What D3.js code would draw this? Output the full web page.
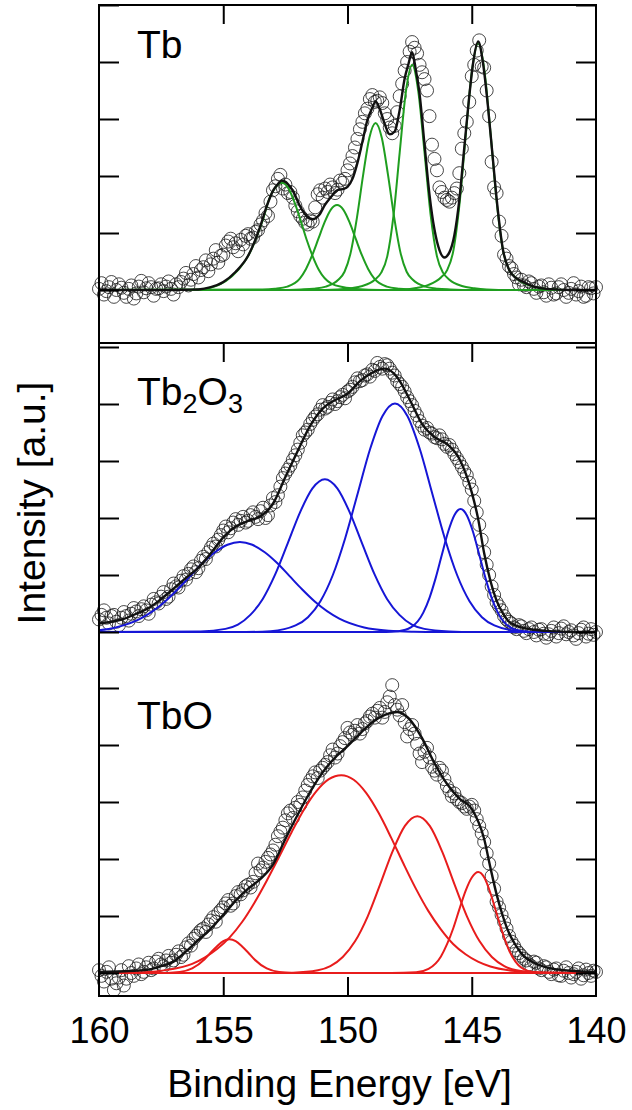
<!DOCTYPE html>
<html>
<head>
<meta charset="utf-8">
<script src="https://cdn.jsdelivr.net/npm/d3@7"></script>
<style>
  body { margin: 0; background: #fff; }
  text { font-family: "Liberation Sans", Arial, sans-serif; fill: #000; }
</style>
</head>
<body>
<svg id="chart" width="632" height="1110"></svg>
<script>
// scan energies (eV), 0.1 eV step from 160 down to 140
const scanEnergy = d3.range(0, 201).map(i => +(160 - 0.1 * i).toFixed(1));
const xTicks = [160, 155, 150, 145, 140];
const yTicks = [0, 1, 2, 3, 4, 5];

// ---- Tb (metal) ----
const tbCounts = [
  0.02, 0.12, -0.08, -0.02, 0.05, 0.14, -0.12, 0.00, 0.10, 0.04,
  -0.05, -0.12, 0.02, 0.08, -0.15, -0.06, 0.06, 0.16, -0.04, 0.03,
  0.12, 0.05, -0.10, 0.02, 0.03, 0.10, -0.02, 0.06, 0.15, 0.02,
  -0.08, 0.10, 0.05, 0.14, 0.20, 0.30, 0.08, 0.18, 0.28, 0.42,
  0.22, 0.35, 0.40, 0.52, 0.33, 0.45, 0.55, 0.70, 0.48, 0.60,
  0.62, 0.78, 0.85, 0.90, 0.75, 0.82, 0.68, 0.88, 0.80, 0.95,
  0.98, 0.90, 0.92, 1.02, 1.05, 1.15, 1.22, 1.35, 1.30, 1.55,
  1.75, 1.82, 1.95, 2.02, 1.78, 1.85, 1.70, 1.72, 1.62, 1.48,
  1.38, 1.30, 1.25, 1.18, 1.15, 1.22, 1.20, 1.45, 1.68, 1.75,
  1.62, 1.78, 1.72, 1.85, 1.80, 1.70, 1.76, 1.92, 1.88, 1.95,
  2.10, 2.22, 2.35, 2.50, 2.65, 2.82, 2.95, 3.10, 3.18, 3.35,
  3.42, 3.30, 3.32, 3.38, 3.28, 3.10, 3.00, 2.85, 2.75, 2.88,
  3.12, 3.40, 3.62, 3.85, 4.00, 4.18, 4.35, 4.25, 4.15, 3.95,
  3.82, 3.70, 3.50, 3.05, 2.55, 2.30, 2.10, 1.80, 1.72, 1.62,
  1.58, 1.55, 1.62, 1.70, 1.78, 2.05, 2.48, 2.75, 2.95, 3.30,
  3.75, 3.95, 4.20, 4.38, 3.92, 3.90, 3.50, 3.05, 2.25, 1.80,
  1.70, 1.20, 0.95, 0.62, 0.55, 0.42, 0.38, 0.28, 0.22, 0.10,
  0.18, 0.08, 0.05, 0.15, 0.12, 0.02, -0.05, 0.06, 0.08, -0.04,
  -0.10, 0.10, 0.04, -0.08, -0.06, 0.05, 0.10, 0.00, -0.12, -0.05,
  0.02, 0.12, -0.08, -0.02, 0.06, -0.12, -0.10, 0.05, 0.03, -0.06,
  0.05
];
const tbFit = [[160,0],[158,0],[157,0],[156.5,0.005],[156,0.01],[155.5,0.05],[155,0.14],[154.5,0.32],[154,0.60],
  [153.5,1.13],[153.25,1.47],[153,1.74],[152.8,1.86],[152.65,1.92],[152.4,1.86],[152.15,1.70],[151.9,1.46],
  [151.65,1.30],[151.4,1.24],[151.15,1.31],[150.9,1.50],[150.65,1.64],[150.42,1.75],[150.2,1.77],[150,1.81],
  [149.8,1.95],[149.6,2.23],[149.4,2.60],[149.2,2.98],[149,3.20],[148.87,3.31],[148.7,3.17],[148.5,2.91],
  [148.3,2.73],[148.1,2.78],[147.9,3.16],[147.7,3.71],[147.55,3.96],[147.4,4.17],[147.25,3.86],[147.1,3.44],
  [146.9,2.55],[146.7,1.67],[146.5,1.06],[146.3,0.70],[146.1,0.57],[145.9,0.66],[145.7,0.96],[145.5,1.58],
  [145.3,2.50],[145.1,3.40],[144.95,3.97],[144.74,4.36],[144.55,3.99],[144.35,3.23],[144.15,2.30],[143.95,1.40],
  [143.75,0.72],[143.5,0.36],[143.25,0.22],[143,0.155],[142.5,0.06],[142,0.02],[141,0],[140,0]];
const tbPeak1 = [[160,0],[156.15,0.005],[155.65,0.028],[155.15,0.094],[154.65,0.24],[154.15,0.49],[153.9,0.68],
  [153.65,0.94],[153.4,1.24],[153.15,1.60],[152.9,1.80],[152.65,1.88],[152.4,1.80],[152.15,1.56],[151.9,1.24],
  [151.65,0.89],[151.4,0.59],[151.15,0.35],[150.65,0.11],[150.15,0.047],[149.65,0.019],[148.65,0],[140,0]];
const tbPeak2 = [[160,0],[153.42,0.009],[152.92,0.022],[152.42,0.06],[151.92,0.20],[151.67,0.37],[151.42,0.61],
  [151.17,0.90],[150.92,1.19],[150.67,1.41],[150.42,1.49],[150.17,1.41],[149.92,1.19],[149.67,0.90],[149.42,0.61],
  [149.17,0.37],[148.92,0.20],[148.42,0.06],[147.92,0.022],[147.42,0.009],[146.42,0],[140,0]];
const tbPeak3 = [[160,0],[152.87,0],[151.87,0.01],[151.37,0.023],[150.87,0.06],[150.37,0.18],[150.12,0.32],
  [149.87,0.66],[149.62,1.27],[149.37,2.02],[149.12,2.67],[148.87,2.93],[148.62,2.67],[148.37,2.02],[148.12,1.27],
  [147.87,0.66],[147.62,0.32],[147.37,0.18],[146.87,0.06],[146.37,0.023],[145.87,0.01],[144.87,0],[140,0]];
const tbPeak4 = [[160,0],[151.4,0],[150.4,0.01],[149.9,0.03],[149.4,0.07],[148.9,0.18],[148.65,0.30],[148.4,0.59],
  [148.15,1.30],[147.9,2.41],[147.65,3.48],[147.4,3.95],[147.15,3.48],[146.9,2.41],[146.65,1.30],[146.4,0.59],
  [146.15,0.30],[145.9,0.18],[145.4,0.07],[144.9,0.03],[144.4,0.01],[143.4,0],[140,0]];
const tbPeak5 = [[160,0],[148.74,0],[147.74,0.01],[147.24,0.035],[146.74,0.09],[146.24,0.22],[145.99,0.35],
  [145.74,0.69],[145.49,1.52],[145.24,2.73],[144.99,3.85],[144.74,4.33],[144.49,3.85],[144.24,2.73],[143.99,1.52],
  [143.74,0.69],[143.49,0.35],[143.24,0.22],[142.74,0.09],[142.24,0.035],[141.74,0.01],[140.74,0],[140,0]];

// ---- Tb2O3 ----
const tb2o3Counts = [
  0.22, 0.30, 0.38, 0.25, 0.15, 0.28, 0.30, 0.18, 0.12, 0.25,
  0.35, 0.28, 0.20, 0.32, 0.42, 0.36, 0.28, 0.40, 0.45, 0.38,
  0.32, 0.48, 0.58, 0.52, 0.50, 0.62, 0.70, 0.58, 0.62, 0.75,
  0.85, 0.80, 0.78, 0.90, 0.98, 0.92, 1.02, 1.10, 1.15, 1.05,
  1.12, 1.25, 1.32, 1.28, 1.40, 1.48, 1.55, 1.50, 1.62, 1.70,
  1.78, 1.85, 1.75, 1.82, 1.92, 1.98, 1.88, 1.95, 2.02, 1.92,
  1.95, 2.05, 2.10, 2.02, 1.98, 2.12, 2.18, 2.00, 2.05, 2.22,
  2.35, 2.28, 2.40, 2.55, 2.70, 2.78, 2.85, 2.92, 3.02, 3.10,
  3.20, 3.32, 3.45, 3.50, 3.55, 3.65, 3.72, 3.78, 3.82, 3.90,
  3.98, 3.92, 3.95, 4.02, 4.08, 4.00, 4.05, 4.12, 4.16, 4.10,
  4.22, 4.25, 4.30, 4.38, 4.45, 4.40, 4.42, 4.50, 4.52, 4.48,
  4.60, 4.58, 4.72, 4.65, 4.62, 4.70, 4.68, 4.62, 4.55, 4.50,
  4.40, 4.35, 4.30, 4.22, 4.12, 4.05, 3.98, 3.88, 3.80, 3.70,
  3.62, 3.55, 3.58, 3.50, 3.48, 3.42, 3.40, 3.45, 3.38, 3.30,
  3.25, 3.28, 3.20, 3.12, 3.05, 2.98, 2.90, 2.82, 2.75, 2.62,
  2.50, 2.30, 2.10, 1.88, 1.62, 1.40, 1.18, 1.00, 0.80, 0.65,
  0.52, 0.45, 0.38, 0.28, 0.22, 0.18, 0.15, 0.08, 0.05, 0.12,
  0.10, 0.02, -0.02, 0.05, 0.08, 0.00, -0.06, 0.04, 0.05, -0.03,
  -0.10, -0.04, 0.02, 0.08, -0.08, -0.02, 0.06, 0.10, -0.04, 0.00,
  0.03, -0.06, -0.12, -0.02, 0.04, 0.08, -0.08, -0.03, 0.05, -0.05,
  0.00
];
const tb2o3Fit = [[160,0.15],[159.5,0.18],[159,0.23],[158.5,0.32],[158,0.42],[157.5,0.58],[157,0.76],[156.5,0.95],
  [156,1.13],[155.5,1.38],[155,1.66],[154.5,1.85],[154,1.95],[153.5,2.03],[153,2.25],[152.5,2.72],[152,3.18],
  [151.5,3.62],[151,3.92],[150.5,4.07],[150,4.18],[149.5,4.40],[149,4.55],[148.5,4.62],[148,4.47],[147.5,4.08],
  [147,3.65],[146.5,3.42],[146,3.30],[145.5,3.04],[145,2.45],[144.75,2.0],[144.5,1.38],[144.25,0.9],[144,0.55],
  [143.75,0.33],[143.5,0.18],[143,0.08],[142.5,0.04],[142,0.02],[141,0],[140,0]];
const tb2o3PeakA = [[160,0.03],[159.33,0.08],[158.33,0.235],[157.33,0.54],[156.83,0.75],[156.33,0.98],[155.83,1.21],
  [155.33,1.40],[154.83,1.53],[154.33,1.58],[153.83,1.53],[153.33,1.40],[152.83,1.21],[152.33,0.98],[151.83,0.75],
  [151.33,0.54],[150.33,0.235],[149.33,0.08],[148.33,0.022],[147.33,0.005],[146.33,0],[140,0]];
const tb2o3PeakB = [[160,0],[155.91,0.01],[154.91,0.055],[154.41,0.13],[153.91,0.30],[153.41,0.58],[152.91,1.01],
  [152.41,1.55],[151.91,2.10],[151.41,2.52],[150.91,2.68],[150.41,2.52],[149.91,2.10],[149.41,1.55],[148.91,1.01],
  [148.41,0.58],[147.91,0.30],[147.41,0.13],[146.91,0.055],[145.91,0.01],[144.91,0],[140,0]];
const tb2o3PeakC = [[160,0],[154.09,0],[153.09,0.015],[152.09,0.115],[151.59,0.26],[151.09,0.54],[150.59,1.0],
  [150.09,1.65],[149.59,2.43],[149.09,3.21],[148.59,3.79],[148.09,4.01],[147.59,3.79],[147.09,3.21],[146.59,2.43],
  [146.09,1.65],[145.59,1.0],[145.09,0.54],[144.59,0.26],[144.09,0.115],[143.09,0.015],[142.09,0],[140,0]];
const tb2o3PeakD = [[160,0],[148.45,0],[147.95,0.013],[147.45,0.08],[146.95,0.34],[146.7,0.60],[146.45,0.95],
  [146.2,1.36],[145.95,1.76],[145.7,2.05],[145.45,2.16],[145.2,2.05],[144.95,1.76],[144.7,1.36],[144.45,0.95],
  [144.2,0.60],[143.95,0.34],[143.45,0.08],[142.95,0.013],[142.45,0],[140,0]];

// ---- TbO ----
const tboCounts = [
  0.05, -0.05, -0.15, 0.02, 0.10, -0.10, -0.30, -0.18, -0.08, 0.05,
  -0.22, -0.10, 0.12, 0.00, -0.05, 0.08, 0.15, -0.02, 0.02, 0.10,
  0.18, 0.05, 0.08, 0.20, 0.25, 0.15, 0.12, 0.22, 0.30, 0.18,
  0.22, 0.32, 0.38, 0.28, 0.32, 0.45, 0.52, 0.48, 0.60, 0.65,
  0.70, 0.75, 0.78, 0.72, 0.85, 0.92, 0.98, 0.90, 1.05, 1.10,
  1.15, 1.22, 1.28, 1.18, 1.22, 1.35, 1.42, 1.38, 1.45, 1.52,
  1.55, 1.50, 1.60, 1.75, 1.92, 1.80, 1.85, 1.95, 2.02, 2.08,
  2.15, 2.25, 2.40, 2.48, 2.55, 2.68, 2.80, 2.85, 2.72, 2.90,
  3.00, 2.95, 3.08, 3.20, 3.30, 3.38, 3.45, 3.52, 3.42, 3.55,
  3.60, 3.65, 3.70, 3.82, 3.92, 3.78, 3.85, 3.98, 4.05, 4.12,
  4.30, 4.22, 4.18, 4.25, 4.35, 4.20, 4.28, 4.38, 4.42, 4.50,
  4.55, 4.48, 4.60, 4.65, 4.48, 4.58, 4.75, 4.85, 5.05, 4.70,
  4.62, 4.52, 4.70, 4.40, 4.15, 4.28, 4.35, 4.20, 4.02, 3.85,
  3.70, 3.88, 3.95, 3.78, 3.62, 3.55, 3.48, 3.60, 3.55, 3.40,
  3.28, 3.20, 3.10, 3.15, 3.05, 3.00, 2.98, 2.92, 2.88, 2.92,
  2.95, 2.85, 2.70, 2.58, 2.45, 2.30, 2.10, 1.92, 1.70, 1.48,
  1.25, 1.15, 1.02, 0.90, 0.78, 0.65, 0.55, 0.48, 0.40, 0.35,
  0.30, 0.25, 0.22, 0.15, 0.12, 0.20, 0.18, 0.08, 0.05, 0.12,
  0.10, 0.02, -0.02, 0.06, 0.08, -0.04, -0.05, 0.04, 0.10, 0.00,
  -0.08, -0.02, 0.02, 0.08, -0.10, -0.04, 0.06, 0.00, -0.05, 0.04,
  0.02
];
const tboFit = [[160,0.02],[159,0.03],[158,0.06],[157.5,0.12],[157,0.2],[156.5,0.38],[156,0.58],[155.5,0.78],
  [155,1.02],[154.5,1.27],[154,1.48],[153.5,1.65],[153,1.9],[152.5,2.35],[152,2.78],[151.5,3.18],[151,3.52],
  [150.5,3.78],[150,3.98],[149.5,4.2],[149,4.4],[148.5,4.53],[148,4.58],[147.5,4.45],[147,4.12],[146.5,3.68],
  [146,3.32],[145.5,3.06],[145,2.88],[144.5,2.35],[144.25,1.85],[144,1.38],[143.75,1.0],[143.5,0.7],[143.25,0.5],
  [143,0.34],[142.5,0.18],[142,0.1],[141,0.04],[140,0.02]];
const tboPeakE = [[160,0],[157.25,0.002],[156.75,0.017],[156.25,0.08],[155.75,0.24],[155.5,0.36],[155.25,0.47],
  [155.0,0.56],[154.75,0.59],[154.5,0.56],[154.25,0.47],[154.0,0.36],[153.75,0.24],[153.25,0.08],[152.75,0.017],
  [152.25,0.002],[151.25,0],[140,0]];
const tboPeakF = [[160,0],[158.25,0.015],[157.25,0.055],[156.25,0.16],[155.75,0.27],[155.25,0.42],[154.75,0.62],
  [154.25,0.89],[153.75,1.23],[153.25,1.62],[152.75,2.04],[152.25,2.47],[151.75,2.87],[151.25,3.19],[150.75,3.40],
  [150.25,3.47],[149.75,3.39],[149.25,3.16],[148.75,2.81],[148.25,2.38],[147.75,1.92],[147.25,1.48],[146.75,1.09],
  [146.25,0.77],[145.75,0.51],[145.25,0.33],[144.75,0.20],[144.25,0.115],[143.25,0.034],[142.25,0.008],[140,0]];
const tboPeakG = [[160,0],[153.19,0],[152.19,0.005],[151.19,0.047],[150.69,0.12],[150.19,0.28],[149.69,0.56],
  [149.19,0.99],[148.69,1.55],[148.19,2.13],[147.69,2.58],[147.19,2.75],[146.69,2.58],[146.19,2.13],[145.69,1.55],
  [145.19,0.99],[144.69,0.56],[144.19,0.28],[143.69,0.12],[143.19,0.047],[142.19,0.005],[141.19,0],[140,0]];
const tboPeakH = [[160,0],[148.24,0],[147.24,0.012],[146.74,0.072],[146.24,0.29],[145.99,0.51],[145.74,0.79],
  [145.49,1.13],[145.24,1.45],[144.99,1.68],[144.74,1.77],[144.49,1.67],[144.24,1.39],[143.99,1.03],[143.74,0.68],
  [143.49,0.39],[143.24,0.20],[142.74,0.038],[142.24,0.004],[141.24,0],[140,0]];

// ---- layout ----
const plotLeft = 99, plotRight = 596, plotTop = 5, plotBottom = 996;
const unit = 57;

const panels = [
  { name: ["Tb"], counts: tbCounts, fit: tbFit,
    peaks: [tbPeak1, tbPeak2, tbPeak3, tbPeak4, tbPeak5], color: "#1f9e1f", base: 290, labelY: 58 },
  { name: ["Tb", "2", "O", "3"], counts: tb2o3Counts, fit: tb2o3Fit,
    peaks: [tb2o3PeakA, tb2o3PeakB, tb2o3PeakC, tb2o3PeakD], color: "#1616d6", base: 632, labelY: 405 },
  { name: ["TbO"], counts: tboCounts, fit: tboFit,
    peaks: [tboPeakE, tboPeakF, tboPeakG, tboPeakH], color: "#e81c1c", base: 973, labelY: 729 }
];

const svg = d3.select("#chart");
const x = d3.scaleLinear().domain([160, 140]).range([plotLeft, plotRight]);

panels.forEach(p => {
  const y = d3.scaleLinear().domain([0, 5]).range([p.base, p.base - 5 * unit]);
  const line = d3.line()
    .x(d => x(d[0]))
    .y(d => y(d[1]))
    .curve(d3.curveMonotoneX);
  const g = svg.append("g");

  g.append("g").selectAll("circle")
    .data(p.counts)
    .join("circle")
    .attr("cx", (d, i) => x(scanEnergy[i]))
    .attr("cy", d => y(d))
    .attr("r", 6.5)
    .attr("fill", "none")
    .attr("stroke", "#1a1a1a")
    .attr("stroke-opacity", 0.8)
    .attr("stroke-width", 1);

  g.append("g").selectAll("path")
    .data(p.peaks)
    .join("path")
    .attr("d", line)
    .attr("fill", "none")
    .attr("stroke", p.color)
    .attr("stroke-width", 2);

  g.append("path")
    .datum(p.fit)
    .attr("d", line)
    .attr("fill", "none")
    .attr("stroke", "#111")
    .attr("stroke-width", 2.4);

  // inner ticks on both sides
  g.append("g")
    .attr("transform", `translate(${plotLeft},0)`)
    .call(d3.axisRight(y).tickValues(yTicks).tickSize(20).tickFormat(""))
    .call(a => a.select(".domain").remove())
    .call(a => a.selectAll("line").attr("stroke-width", 2));
  g.append("g")
    .attr("transform", `translate(${plotRight},0)`)
    .call(d3.axisLeft(y).tickValues(yTicks).tickSize(20).tickFormat(""))
    .call(a => a.select(".domain").remove())
    .call(a => a.selectAll("line").attr("stroke-width", 2));

  const t = g.append("text")
    .attr("x", 137)
    .attr("y", p.labelY)
    .attr("font-size", 39);
  p.name.forEach((s, i) => {
    const sub = i % 2 === 1;
    t.append("tspan")
      .attr("font-size", sub ? 27 : 39)
      .attr("dy", i === 0 ? 0 : (sub ? 8 : -8))
      .text(s);
  });
});

// frame and panel divider
svg.append("rect")
  .attr("x", plotLeft).attr("y", plotTop)
  .attr("width", plotRight - plotLeft).attr("height", plotBottom - plotTop)
  .attr("fill", "none").attr("stroke", "#000").attr("stroke-width", 2);
svg.append("line")
  .attr("x1", plotLeft).attr("x2", plotRight).attr("y1", 343).attr("y2", 343)
  .attr("stroke", "#000").attr("stroke-width", 2);

// x ticks (inner) on top of the Tb and Tb2O3 panels and on the bottom axis
[plotTop, 343].forEach(yy => {
  svg.append("g")
    .attr("transform", `translate(0,${yy})`)
    .call(d3.axisBottom(x).tickValues([155, 150, 145]).tickSize(19).tickFormat(""))
    .call(a => a.select(".domain").remove())
    .call(a => a.selectAll("line").attr("stroke-width", 2));
});
svg.append("g")
  .attr("transform", `translate(0,${plotBottom})`)
  .call(d3.axisTop(x).tickValues([155, 150, 145]).tickSize(19).tickFormat(""))
  .call(a => a.select(".domain").remove())
  .call(a => a.selectAll("line").attr("stroke-width", 2));

svg.append("g")
  .attr("transform", `translate(0,${plotBottom})`)
  .call(d3.axisBottom(x).tickValues(xTicks).tickSize(0).tickPadding(21))
  .call(a => a.select(".domain").remove())
  .call(a => a.selectAll("text")
    .attr("font-size", 36)
    .attr("font-family", "'Liberation Sans', Arial, sans-serif")
    .attr("fill", "#000"));

svg.append("text")
  .attr("x", (plotLeft + plotRight) / 2 - 8)
  .attr("y", 1097)
  .attr("text-anchor", "middle")
  .attr("font-size", 39)
  .text("Binding Energy [eV]");

svg.append("text")
  .attr("transform", "translate(45,503) rotate(-90)")
  .attr("text-anchor", "middle")
  .attr("font-size", 39)
  .text("Intensity [a.u.]");
</script>
</body>
</html>
